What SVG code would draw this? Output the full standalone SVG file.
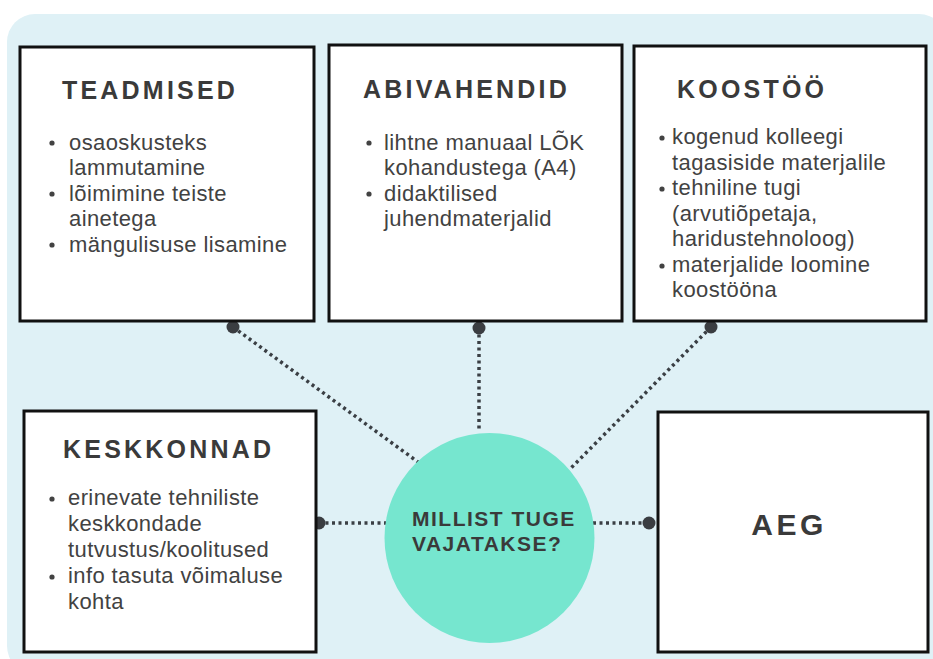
<svg xmlns="http://www.w3.org/2000/svg" width="933" height="659" viewBox="0 0 933 659">
<style>
.box{fill:#fff;stroke:#111;stroke-width:3}
.title{font-family:"Liberation Sans",Arial,sans-serif;font-weight:bold;font-size:25px;letter-spacing:3.2px;fill:#3a3a3a}
.body{font-family:"Liberation Sans",Arial,sans-serif;font-size:22px;letter-spacing:0.4px;fill:#424242}
.bul{fill:#424242}
.conn{stroke:#3a3f44;stroke-width:3.5;stroke-dasharray:3 3.5;fill:none}
.end{fill:#3a3d41}
.ctext{font-family:"Liberation Sans",Arial,sans-serif;font-weight:bold;font-size:21px;letter-spacing:1.5px;fill:#3a3a3a}
</style>
<rect x="7" y="14" width="940" height="660" rx="28" fill="#dff1f6"/>

<g id="connectors">
<line class="conn" x1="233" y1="327" x2="418" y2="462"/>
<line class="conn" x1="479" y1="328" x2="479" y2="432"/>
<line class="conn" x1="711" y1="327" x2="571" y2="468"/>
<line class="conn" x1="319" y1="523" x2="386" y2="523"/>
<line class="conn" x1="593" y1="523" x2="649" y2="523"/>
<circle class="end" cx="233" cy="327" r="6.5"/>
<circle class="end" cx="479" cy="328" r="6.5"/>
<circle class="end" cx="711" cy="327" r="6.5"/>
<circle class="end" cx="319" cy="523" r="6.5"/>
<circle class="end" cx="649" cy="523" r="6.5"/>
</g>

<g id="teadmised">
<rect class="box" x="20" y="47" width="294" height="274"/>
<text class="title" x="62" y="99">TEADMISED</text>
<circle class="bul" cx="52" cy="143" r="2.6"/>
<circle class="bul" cx="52" cy="194" r="2.6"/>
<circle class="bul" cx="52" cy="245" r="2.6"/>
<text class="body" x="69" y="149.5">osaoskusteks</text>
<text class="body" x="69" y="175">lammutamine</text>
<text class="body" x="69" y="200.5">lõimimine teiste</text>
<text class="body" x="69" y="226">ainetega</text>
<text class="body" x="69" y="251.5">mängulisuse lisamine</text>
</g>

<g id="abivahendid">
<rect class="box" x="329" y="45" width="293" height="276"/>
<text class="title" x="363" y="98">ABIVAHENDID</text>
<circle class="bul" cx="369" cy="143" r="2.6"/>
<circle class="bul" cx="369" cy="194" r="2.6"/>
<text class="body" x="384" y="149.5">lihtne manuaal LÕK</text>
<text class="body" x="384" y="175">kohandustega (A4)</text>
<text class="body" x="384" y="200.5">didaktilised</text>
<text class="body" x="384" y="226">juhendmaterjalid</text>
</g>

<g id="koostoo">
<rect class="box" x="634" y="46" width="292" height="275"/>
<text class="title" x="677" y="98">KOOSTÖÖ</text>
<circle class="bul" cx="662" cy="138" r="2.6"/>
<circle class="bul" cx="662" cy="189" r="2.6"/>
<circle class="bul" cx="662" cy="266" r="2.6"/>
<text class="body" x="672" y="144">kogenud kolleegi</text>
<text class="body" x="672" y="169.5">tagasiside materjalile</text>
<text class="body" x="672" y="195">tehniline tugi</text>
<text class="body" x="672" y="220.5">(arvutiõpetaja,</text>
<text class="body" x="672" y="246">haridustehnoloog)</text>
<text class="body" x="672" y="271.5">materjalide loomine</text>
<text class="body" x="672" y="297">koostööna</text>
</g>

<g id="keskkonnad">
<rect class="box" x="24" y="411" width="292" height="241"/>
<text class="title" x="63" y="458">KESKKONNAD</text>
<circle class="bul" cx="52" cy="499" r="2.6"/>
<circle class="bul" cx="52" cy="577" r="2.6"/>
<text class="body" x="68" y="505">erinevate tehniliste</text>
<text class="body" x="68" y="531">keskkondade</text>
<text class="body" x="68" y="557">tutvustus/koolitused</text>
<text class="body" x="68" y="583">info tasuta võimaluse</text>
<text class="body" x="68" y="608.5">kohta</text>
</g>

<g id="aeg">
<rect class="box" x="658" y="412" width="270" height="240"/>
<text class="title" x="789" y="535" text-anchor="middle" style="font-size:30px;letter-spacing:3.5px">AEG</text>
</g>

<g id="center">
<circle cx="489.5" cy="538" r="105" fill="#76e6cf"/>
<text class="ctext" x="412" y="526">MILLIST TUGE</text>
<text class="ctext" x="412" y="551">VAJATAKSE?</text>
</g>
</svg>
